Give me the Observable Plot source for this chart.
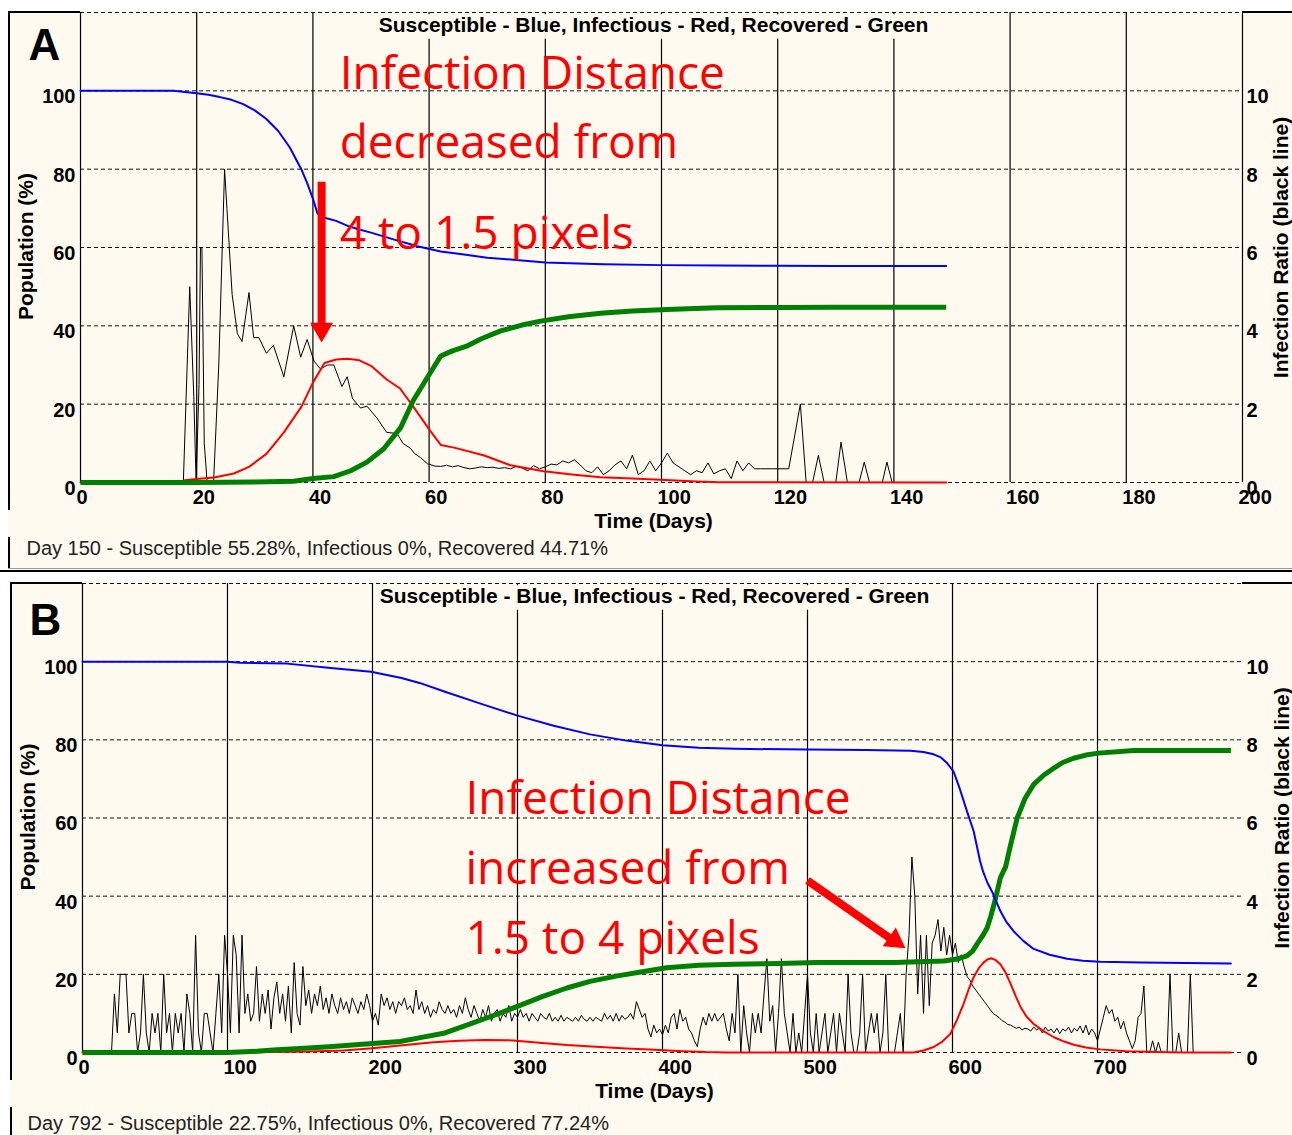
<!DOCTYPE html>
<html><head><meta charset="utf-8">
<script src="https://cdn.jsdelivr.net/npm/d3@7"></script>
<script src="https://cdn.jsdelivr.net/npm/@observablehq/plot@0.6"></script>
<style>
html,body{margin:0;padding:0;background:#fff;}
#page{position:relative;width:1292px;height:1135px;overflow:hidden;background:#fff;}
.panel{position:absolute;background:#FFFAEF;}
.panel svg{display:block;}
.ln{position:absolute;background:#000;z-index:5;}
</style></head><body><div id="page"></div>
<script>
const FONT = "'Liberation Sans', Arial, Helvetica, sans-serif";
const ANNO_FONT = "'Open Sans', 'Noto Sans', sans-serif";
const CREAM = "#FFFAEF";

// ---------- shared axis values ----------
const yTicks = [0, 20, 40, 60, 80, 100];
const yGrid = [0, 20, 40, 60, 80, 100, 120];
const ratioTicks = [0, 2, 4, 6, 8, 10];
const titleText = "Susceptible - Blue, Infectious - Red, Recovered - Green";
const xLabel = "Time (Days)";
const yLabel = "Population (%)";
const y2Label = "Infection Ratio (black line)";

// ---------- Panel A ----------
const aDayTicks = [0, 20, 40, 60, 80, 100, 120, 140, 160, 180, 200];
const aStatus = "Day 150 - Susceptible 55.28%, Infectious 0%, Recovered 44.71%";
const aSusceptible = [[0,100],[16,100],[18,99.7],[20,99.4],[22,99.0],[24,98.4],[26,97.7],[28,96.6],[30,95.0],[32,92.8],[34,89.8],[36,85.6],[38,80.0],[39,76.5],[40,72.5],[40.8,68.6],[42,67.6],[44,66.8],[46,65.5],[48,64.6],[50,63.8],[54,62.0],[58,60.3],[62,59.0],[66,58.2],[70,57.4],[75,56.8],[80,56.2],[90,55.7],[100,55.5],[110,55.4],[120,55.35],[130,55.3],[149,55.28]];
const aInfectious = [[0,0],[17,0],[18,0.6],[20,0.9],[23,1.3],[26.4,2.3],[29,4.0],[32,7.3],[35,12.8],[38,19.3],[40,25.5],[42,30.5],[44,31.4],[46,31.6],[48,31.2],[50,29.8],[52.7,26.3],[55,24.0],[57.3,19.3],[60.2,13.2],[62,9.6],[64.3,8.9],[69.5,6.9],[74,4.4],[79.7,2.9],[85,2.0],[89.5,1.35],[95,1.0],[99.8,0.7],[106,0.25],[110,0.05],[149,0]];
const aRecovered = [[0,0],[20,0],[30,0.1],[36.7,0.3],[40,1.0],[43.6,1.5],[46.5,3.0],[49.3,5.2],[52.2,8.6],[55.1,14.0],[57.3,21.0],[59.7,26.8],[62,32.3],[64,33.6],[66.6,34.9],[69,36.7],[72.3,38.7],[76,40.2],[79.2,41.2],[84,42.3],[89.5,43.2],[95,43.8],[100.9,44.2],[109.5,44.6],[120,44.7],[130,44.75],[149,44.75]];
const aRatio = [[0,0],[17.7,0],[18.8,5.0],[19.5,2.2],[19.9,0],[20.4,2.5],[20.65,6.0],[20.9,6.0],[21.3,1.0],[21.8,0],[22.9,0],[23.8,3.0],[24.8,8.0],[25.2,7.0],[26.1,4.8],[27.0,3.8],[27.8,3.6],[29.0,4.85],[29.8,3.7],[30.7,3.7],[32.0,3.3],[33.2,3.5],[35.0,2.7],[36.7,4.0],[37.9,3.2],[39.0,3.65],[40.2,3.1],[41.3,2.9],[42.5,3.0],[43.6,3.0],[45.0,2.45],[45.9,2.7],[46.8,2.15],[48.2,1.9],[49.3,1.95],[51.0,1.65],[52.7,1.28],[54.5,1.25],[55.5,1.0],[56.8,0.87],[57.5,0.74],[58.5,0.64],[59.7,0.48],[61,0.42],[62,0.41],[63,0.44],[64,0.40],[65,0.43],[66,0.38],[67,0.35],[68,0.37],[69,0.40],[70,0.38],[71,0.39],[72,0.36],[73,0.38],[74,0.35],[75,0.41],[76,0.37],[77,0.30],[78,0.43],[79,0.35],[80,0.40],[81,0.47],[82,0.45],[83,0.55],[84,0.50],[85,0.58],[86,0.45],[87,0.30],[88,0.25],[89,0.40],[90,0.20],[91,0.30],[92,0.45],[93,0.55],[94,0.35],[95,0.70],[96,0.20],[97,0.30],[98,0.55],[99,0.30],[100,0.50],[101,0.75],[102,0.50],[103,0.40],[104,0.30],[105,0.20],[106,0.30],[107,0.25],[108,0.50],[109,0.22],[110,0.30],[111,0.35],[112,0.10],[113,0.55],[114,0.30],[115,0.50],[116,0.35],[117,0.35],[118,0.35],[119,0.35],[120,0.35],[121.9,0.35],[123.9,2.0],[124.9,0],[126,0],[127,0.69],[128,0],[130,0],[130.9,1.03],[132,0],[134,0],[134.9,0.52],[135.8,0],[138,0],[138.8,0.52],[139.7,0],[149,0]];
const aAnnoLines = ["Infection Distance", "decreased from", "4 to 1.5 pixels"];
const aAnnoDay = [44.6, 44.6, 44.6];
const aAnnoPct = [104.3, 86.7, 63.5];
const aArrowShaft = [[41.5, 76.8, 41.5, 40.1]];   // day1, pct1, day2, pct2
const aArrowHead = [[41.5, 39.1, 180]];          // day, pct, rotation

// ---------- Panel B ----------
const bDayTicks = [0, 100, 200, 300, 400, 500, 600, 700];
const bStatus = "Day 792 - Susceptible 22.75%, Infectious 0%, Recovered 77.24%";
const bSusceptible = [[0,100],[100,100],[109,99.7],[141,99.5],[173,98.3],[199,97.4],[220,95.8],[233,94.5],[250,92.3],[275,89.2],[300,86.2],[325,83.6],[350,81.4],[375,79.8],[400,78.6],[425,78.0],[450,77.7],[500,77.5],[540,77.4],[571,77.2],[580,76.9],[587,76.3],[592,75.5],[596.4,74.0],[600.7,71.9],[605,67.5],[610,61.7],[614.6,56.6],[619,49.0],[621,46.4],[624,43.5],[628,40.6],[633,36.2],[637,33.5],[642,31.1],[649,28.5],[656,26.5],[667,25.0],[679,24.0],[690,23.5],[702,23.2],[730,23.0],[792,22.75]];
const bInfectious = [[0,0],[100,0],[130,0.1],[150,0.2],[180,0.5],[200,1.1],[219,1.8],[242,2.6],[260,3.0],[277,3.2],[297,3.1],[315,2.5],[334,1.9],[357,1.4],[375,1.0],[391,0.77],[414,0.35],[430,0.1],[445,0],[573,0],[580,0.5],[587,1.4],[593,2.8],[598.6,4.8],[603,8.3],[607.6,12.4],[611,16.0],[614.5,19.2],[618,21.5],[621.4,23.0],[624,23.8],[626.6,24.1],[629.5,23.7],[633,22.6],[636.5,20.5],[640,17.6],[643.5,14.5],[647,11.6],[651,9.2],[656,7.3],[663,5.4],[670,3.9],[677,2.8],[683.6,2.0],[692,1.3],[702,0.8],[720,0.3],[740,0.1],[760,0],[792,0]];
const bRecovered = [[0,0],[100,0],[120,0.3],[134,0.7],[150,1.0],[170,1.5],[200,2.3],[219,2.8],[233,3.8],[250,5.0],[265,7.0],[283,9.4],[300,11.8],[317,14.3],[334,16.5],[350,18.2],[369,19.6],[385,20.6],[403,21.7],[425,22.3],[449,22.6],[480,22.8],[507,23.0],[560,23.0],[594,23.4],[603,23.9],[610,24.7],[614,26.0],[617,27.8],[621,30.0],[624,32.0],[626.5,35.0],[628.7,38.0],[631,41.5],[633,44.7],[636.6,47.5],[640,53.0],[644.6,60.0],[650,65.0],[656,68.6],[663,71.0],[669.7,72.7],[676,74.2],[683.5,75.3],[692,76.1],[700.7,76.6],[725,77.3],[792,77.3]];
// infection ratio read every 2 days, day 0 .. day 792 (one row = 20 days)
const bRatioStep = 2;
const bRatio = [
  0,0,0,0,0,0,0,0,0,0,                       // 0-18
  0,1.5,0.5,2.0,2.0,2.0,0.5,1.0,1.0,0,       // 20-38
  0.5,2.0,0.5,0,1.0,0.5,1.0,0,2.0,0.5,       // 40-58
  1.0,0,1.0,0.5,1.0,0,1.5,1.0,0,3.0,         // 60-78
  0.5,0,1.0,1.0,0.5,0,1.0,2.0,0.5,3.0,       // 80-98
  2.0,0.5,3.0,2.5,0.5,3.0,1.0,1.5,0.8,1.0,   // 100-118
  2.2,0.8,1.5,1.0,1.6,0.6,1.4,1.8,1.0,1.5,   // 120-138
  0.8,1.7,0.5,2.3,1.0,0.7,2.2,1.2,1.6,1.0,   // 140-158
  1.5,1.2,1.7,1.1,1.4,1.0,1.5,1.2,1.0,1.4,   // 160-178
  1.1,1.3,1.0,1.4,1.2,1.0,1.3,1.1,1.5,1.2,   // 180-198
  0.8,1.0,0.7,1.5,1.2,1.4,1.1,1.3,1.0,1.3,   // 200-218
  1.2,1.4,1.1,1.2,1.0,1.6,1.1,1.3,1.0,1.2,   // 220-238
  0.9,1.1,1.0,1.3,1.1,1.0,1.2,1.0,1.1,0.9,   // 240-258
  1.2,1.0,1.4,1.1,0.9,1.2,1.0,0.8,1.1,0.9,   // 260-278
  1.2,0.8,1.0,1.1,0.8,1.0,0.9,1.2,0.8,1.0,   // 280-298
  0.9,1.1,0.9,1.0,0.8,1.0,0.9,0.8,1.0,0.9,   // 300-318
  0.85,1.0,0.8,0.9,0.8,0.95,0.8,0.9,0.85,0.8,// 320-338
  0.9,0.8,0.95,0.85,0.8,0.9,0.8,0.9,0.85,0.8,// 340-358
  1.0,0.85,0.95,0.8,1.0,0.8,0.95,0.85,0.9,1.0,// 360-378
  0.85,1.3,1.1,0.9,1.0,0.6,0.4,0.7,0.5,0.6,  // 380-398
  0.45,0.7,0.5,0.9,1.0,0.6,1.1,0.8,0.9,0.6,  // 400-418
  0.5,0.3,0.15,0.6,0.9,0.7,1.0,0.8,1.0,0.8,  // 420-438
  0.9,1.0,0.6,0.3,1.0,0.5,2.0,0,1.2,0.5,     // 440-458
  0,1.0,0.5,1.0,0.5,1.5,2.4,0.8,1.2,0,       // 460-478
  1.0,2.4,1.0,0.5,0,1.0,0,0.5,0,1.0,         // 480-498
  2.0,0.5,0,1.0,0,0.5,1.0,0,0.5,1.0,         // 500-518
  0,1.0,0.5,0,2.0,0.5,0,0,0.5,2.0,           // 520-538
  0,0.5,1.0,0.5,1.0,0,0.5,2.0,0,0,           // 540-558
  0,0.5,1.0,0,2.0,3.0,5.0,4.0,1.5,3.0,       // 560-578
  1.0,3.0,1.2,2.8,3.0,3.4,2.6,3.2,2.5,3.0,   // 580-598
  2.5,2.8,2.3,2.5,2.2,1.95,1.85,1.7,1.6,1.5, // 600-618
  1.4,1.3,1.2,1.1,1.0,0.95,0.9,0.82,0.78,0.72,// 620-638
  0.7,0.66,0.62,0.65,0.58,0.62,0.6,0.55,0.65,0.58,// 640-658
  0.62,0.5,0.65,0.55,0.6,0.5,0.62,0.48,0.6,0.55,// 660-678
  0.65,0.5,0.62,0.55,0.68,0.5,0.7,0.45,0.6,0.5,// 680-698
  0.3,0.6,0.9,1.2,1.0,1.1,0.8,0.9,0.6,0.8,   // 700-718
  0.5,0.3,0.1,0.3,0.9,1.0,1.7,0,0,0.3,       // 720-738
  0,0.26,0,0,0,2.0,0,0,0.5,0,                // 740-758
  0,0,2.0,0,0,0,0,0,0,0,                     // 760-778
  0,0,0,0,0,0,0                              // 780-792
];
const bAnnoLines = ["Infection Distance", "increased from", "1.5 to 4 pixels"];
const bAnnoDay = [264.1, 264.1, 264.1];
const bAnnoPct = [64.9, 46.9, 29.0];
const bArrowShaft = [[500, 44.0, 558.6, 28.8]];
const bArrowHead = [[560.1, 28.6, 125]];

// ---------- builder ----------
function buildPanel(cfg) {
  const anno = cfg.annoLines.map((t, i) => ({text: t, day: cfg.annoDay[i], pct: cfg.annoPct[i]}));
  const bold = {fontSize: 20, fontWeight: "bold", fill: "#000", fontFamily: FONT};
  return Plot.plot({
    width: cfg.width, height: cfg.height,
    marginLeft: 72, marginRight: 50, marginTop: 1, marginBottom: cfg.marginBottom,
    style: {background: "transparent", fontFamily: FONT, color: "#000", overflow: "visible"},
    x: {domain: [0, cfg.xMax], axis: null},
    y: {domain: [0, 120], axis: null},
    marks: [
      Plot.gridX(cfg.xGrid, {stroke: "#000", strokeOpacity: 1, strokeWidth: 1.2}),
      Plot.gridY(yGrid, {stroke: "#111", strokeOpacity: 1, strokeWidth: 1, strokeDasharray: "4,3"}),
      Plot.text([titleText], {frameAnchor: "top", lineAnchor: "middle", dx: -8, dy: 13, fontSize: 21, fontWeight: "bold", fill: "#000"}),
      Plot.axisX(cfg.xTicks, {tickSize: 0, tickPadding: 7, textAnchor: "start", dx: -4, label: null, ...bold}),
      Plot.axisY(yTicks, {anchor: "left", tickSize: 0, tickPadding: 5, dy: 6, label: null, ...bold}),
      Plot.axisY(ratioTicks.map(v => v * 10), {anchor: "right", tickSize: 0, tickPadding: 4, dy: 6, label: null, tickFormat: d => String(d / 10), ...bold}),
      Plot.text([yLabel], {frameAnchor: "left", textAnchor: "middle", lineAnchor: "middle", rotate: -90, dx: -54, dy: -1, fontSize: 21, fontWeight: "bold", fill: "#000"}),
      Plot.text([y2Label], {frameAnchor: "right", textAnchor: "middle", lineAnchor: "middle", rotate: -90, dx: cfg.y2dx, fontSize: 21, fontWeight: "bold", fill: "#000"}),
      Plot.text([xLabel], {frameAnchor: "bottom", lineAnchor: "middle", dx: -8, dy: 39, fontSize: 21, fontWeight: "bold", fill: "#000"}),
      Plot.text([cfg.status], {frameAnchor: "bottom-left", textAnchor: "start", lineAnchor: "middle", dx: cfg.statusDx, dy: cfg.statusDy, fontSize: 20, fill: "#222"}),
      Plot.text([cfg.letter], {frameAnchor: "top-left", textAnchor: "start", lineAnchor: "middle", dx: cfg.letterDx, dy: cfg.letterDy, fontSize: 44, fontWeight: "bold", fill: "#000"}),
      Plot.line(cfg.ratio, {x: d => d[0], y: d => d[1] * 10, stroke: "#000", strokeWidth: 1, strokeLinejoin: "miter"}),
      Plot.line(cfg.inf, {x: d => d[0], y: d => d[1], stroke: "#FF0000", strokeWidth: 2}),
      Plot.line(cfg.rec, {x: d => d[0], y: d => d[1], stroke: "#008000", strokeWidth: 5, strokeLinecap: "butt"}),
      Plot.line(cfg.sus, {x: d => d[0], y: d => d[1], stroke: "#0000FF", strokeWidth: 2}),
      Plot.text(anno, {x: "day", y: "pct", text: "text", textAnchor: "start", lineAnchor: "middle", fontSize: 46, fontFamily: ANNO_FONT, fill: "#FF0000"}),
      Plot.link(cfg.shaft, {x1: d => d[0], y1: d => d[1], x2: d => d[2], y2: d => d[3], stroke: "#FF0000", strokeWidth: 8, strokeLinecap: "butt"}),
      Plot.dot(cfg.head, {x: d => d[0], y: d => d[1], rotate: d => d[2], symbol: "triangle", r: 8.5, fill: "#FF0000", stroke: "none"})
    ]
  });
}

function boxBehind(svg, txt) {
  d3.select(svg).selectAll("text").filter(function () { return this.textContent === txt; }).each(function () {
    const bb = this.getBBox();
    const r = document.createElementNS("http://www.w3.org/2000/svg", "rect");
    r.setAttribute("x", bb.x - 3);
    r.setAttribute("y", bb.y + 1);
    r.setAttribute("width", bb.width + 6);
    r.setAttribute("height", bb.height + 1.5);
    r.setAttribute("fill", CREAM);
    const tr = this.getAttribute("transform");
    if (tr) r.setAttribute("transform", tr);
    this.parentNode.insertBefore(r, this);
  });
}

const page = document.getElementById("page");
function addDiv(cls, l, t, w, h, bg) {
  const d = document.createElement("div");
  d.className = cls;
  Object.assign(d.style, {left: l + "px", top: t + "px", width: w + "px", height: h + "px"});
  if (bg) d.style.background = bg;
  page.appendChild(d);
  return d;
}

// Panel A
const panelA = addDiv("panel", 8, 11, 1284, 558);
const svgA = buildPanel({
  width: 1284, height: 558, marginBottom: 87, xMax: 200,
  xGrid: aDayTicks, xTicks: aDayTicks,
  sus: aSusceptible, inf: aInfectious, rec: aRecovered, ratio: aRatio,
  status: aStatus, statusDx: -54, statusDy: 66,
  letter: "A", letterDx: -52, letterDy: 33, y2dx: 39,
  annoLines: aAnnoLines, annoDay: aAnnoDay, annoPct: aAnnoPct,
  shaft: aArrowShaft, head: aArrowHead
});
panelA.appendChild(svgA);
boxBehind(svgA, titleText);

// Panel B
const panelB = addDiv("panel", 10, 582, 1282, 553);
const bRatioSeries = bRatio.map((v, i) => [i * bRatioStep, v]);
const svgB = buildPanel({
  width: 1282, height: 553, marginBottom: 83, xMax: 800,
  xGrid: bDayTicks, xTicks: bDayTicks,
  sus: bSusceptible, inf: bInfectious, rec: bRecovered, ratio: bRatioSeries,
  status: bStatus, statusDx: -55, statusDy: 71,
  letter: "B", letterDx: -53, letterDy: 37, y2dx: 40,
  annoLines: bAnnoLines, annoDay: bAnnoDay, annoPct: bAnnoPct,
  shaft: bArrowShaft, head: bArrowHead
});
panelB.appendChild(svgB);
boxBehind(svgB, titleText);

// frame borders
addDiv("ln", 8, 11, 72, 2);
addDiv("ln", 1242, 11, 50, 2);
addDiv("ln", 8, 11, 2, 499);
addDiv("ln", 8, 537, 2, 32);
addDiv("ln", 8, 568, 1284, 1, "#999");
addDiv("ln", 0, 570, 1292, 2);
addDiv("ln", 10, 582, 72, 2);
addDiv("ln", 1242, 582, 50, 2);
addDiv("ln", 10, 582, 2, 498);
addDiv("ln", 10, 1107, 2, 28);
</script></body></html>
